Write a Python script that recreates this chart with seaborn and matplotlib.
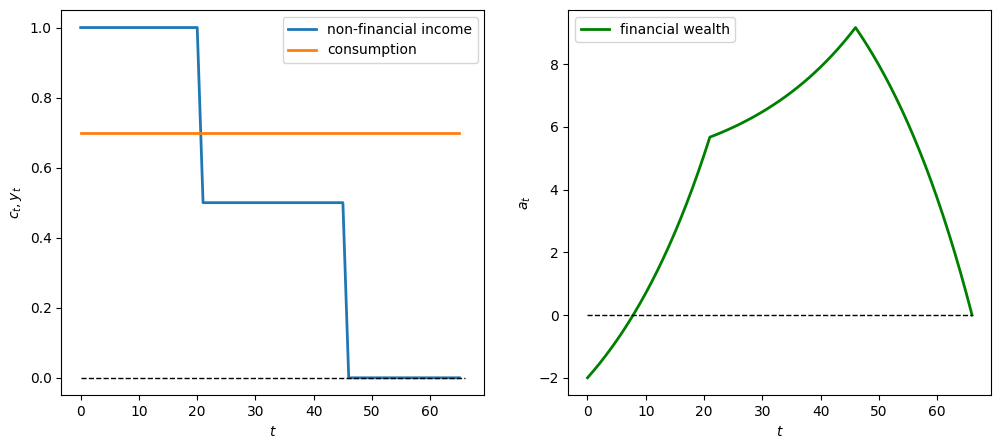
import matplotlib
matplotlib.use("Agg")
import matplotlib.pyplot as plt
import numpy as np
import seaborn as sns

# periods for income / consumption (0..65) and wealth (0..66)
t_y = list(range(66))
t_a = list(range(67))

# non-financial income
income = [1.0] * 21 + [0.5] * 25 + [0.0] * 20
consumption = [0.7] * 66

# financial wealth
wealth = [
    -2.000, -1.785, -1.560, -1.323, -1.074, -0.814, -0.540, -0.251, 0.050, 0.368,
    0.700, 1.050, 1.417, 1.803, 2.208, 2.633, 3.079, 3.549, 4.040, 4.557,
    5.100, 5.670, 5.743, 5.819, 5.900, 5.985, 6.073, 6.167, 6.265, 6.368,
    6.476, 6.590, 6.710, 6.834, 6.966, 7.104, 7.249, 7.401, 7.560, 7.729,
    7.905, 8.090, 8.284, 8.487, 8.702, 8.927, 9.163, 8.886, 8.595, 8.290,
    7.969, 7.631, 7.278, 6.906, 6.517, 6.108, 5.677, 5.226, 4.753, 4.255,
    3.732, 3.183, 2.607, 2.002, 1.367, 0.700, 0.000,
]

# plain matplotlib look, no seaborn theme
fig = plt.figure(figsize=(10.01, 4.48), dpi=100)
ax1 = fig.add_axes([0.0614, 0.1176, 0.4226, 0.860])
ax2 = fig.add_axes([0.5677, 0.1176, 0.4226, 0.860])

sns.lineplot(x=t_y, y=income, ax=ax1, lw=2, color="#1f77b4", label="non-financial income")
sns.lineplot(x=t_y, y=consumption, ax=ax1, lw=2, color="#ff7f0e", label="consumption")
ax1.hlines(0, t_a[0], t_a[-1], colors="k", linestyles="--", lw=1)
ax1.set_ylabel("$c_t, y_t$")
ax1.set_xlabel("$t$")
ax1.legend(loc="upper right")

sns.lineplot(x=t_a, y=wealth, ax=ax2, lw=2, color="green", label="financial wealth")
ax2.hlines(0, t_a[0], t_a[-1], colors="k", linestyles="--", lw=1)
ax2.set_ylabel("$a_t$")
ax2.set_xlabel("$t$")
ax2.legend(loc="upper left")

fig.savefig("out.png", dpi=100)
